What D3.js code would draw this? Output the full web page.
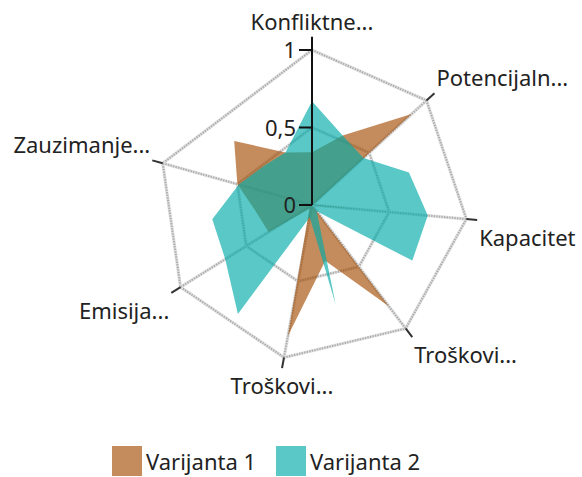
<!DOCTYPE html>
<html>
<head>
<meta charset="utf-8">
<script src="https://cdn.jsdelivr.net/npm/d3@7"></script>
<style>
  html, body { margin: 0; padding: 0; background: #fff; }
  svg { display: block; font-family: "Noto Sans", "Open Sans", sans-serif; }
</style>
</head>
<body>
<svg id="chart" width="582" height="477"></svg>
<script>
// Category axis labels (one spoke per category)
const categories = ["Konfliktne...", "Potencijaln...", "Kapacitet", "Troškovi...", "Troškovi...", "Emisija...", "Zauzimanje..."];
// Angular positions of the series points (half-category steps)
const positions = [0, 0.5, 1, 1.5, 2, 2.5, 3, 3.5, 4, 4.5, 5, 5.5, 6, 6.5, 7];
const varijanta1 = [0.34, 0.49, 0.87, 0.01, 0.30, 0.00, 0.82, 0.37, 0.86, 0.03, 0.33, 0.36, 0.50, 0.65, 0.38];
const varijanta2 = [0.67, 0.49, 0.45, 0.66, 0.75, 0.74, 0.05, 0.66, 0.08, 0.85, 0.66, 0.65, 0.49, 0.40, 0.38];
const seriesNames = ["Varijanta 1", "Varijanta 2"];
const seriesColors = ["rgb(165,78,4)", "rgb(0,170,168)"];
const valueTicks = [0, 0.5, 1];
const valueTickLabels = ["0", "0,5", "1"];

const svg = d3.select("#chart");
const cx = 312, cy = 205, R = 155;
const fontSize = 22;

// angular axis spans a little more than the seven categories
const angle = d3.scaleLinear().domain([0, 7.5625]).range([0, 2 * Math.PI]);
const radius = d3.scaleLinear().domain([0, 1]).range([0, R]);

const pt = (pos, v) => {
  const a = angle(pos) - Math.PI / 2;
  return [cx + radius(v) * Math.cos(a), cy + radius(v) * Math.sin(a)];
};

const g = svg.append("g");

// hatched grid stroke: light band with a fine darker dash on top
function gridStroke(d) {
  g.append("path").attr("d", d)
    .attr("fill", "none").attr("stroke", "#e0e0e0").attr("stroke-width", 3.2);
  g.append("path").attr("d", d)
    .attr("fill", "none").attr("stroke", "#aaaaaa").attr("stroke-width", 2)
    .attr("stroke-dasharray", "1.3,1.3");
}

const line = d3.line();

// grid rings
[0.5, 1].forEach(v => {
  const pts = categories.map((c, i) => pt(i, v));
  pts.push(pts[0]);
  gridStroke(line(pts));
});

// spokes
categories.forEach((c, i) => {
  if (i === 0) return;
  gridStroke(line([[cx, cy], pt(i, 1)]));
});

// outer ticks on each spoke
categories.forEach((c, i) => {
  if (i === 0) return;
  const [x1, y1] = pt(i, 1);
  const [x2, y2] = pt(i, 1.07);
  g.append("line").attr("x1", x1).attr("y1", y1).attr("x2", x2).attr("y2", y2)
    .attr("stroke", "#333").attr("stroke-width", 2);
});

// series areas
[varijanta1, varijanta2].forEach((vals, s) => {
  const pts = positions.map((p, i) => pt(p, vals[i]));
  g.append("path").attr("d", line(pts) + "Z")
    .attr("fill", seriesColors[s]).attr("fill-opacity", 0.65).attr("stroke", "none");
});

// value axis
const vAxis = g.append("g");
const [tx, ty] = pt(0, 1.085);
vAxis.append("line").attr("x1", cx).attr("y1", cy).attr("x2", tx).attr("y2", ty)
  .attr("stroke", "#111").attr("stroke-width", 2);
valueTicks.forEach((v, i) => {
  const y = cy - radius(v);
  vAxis.append("line").attr("x1", cx - 13).attr("x2", cx).attr("y1", y).attr("y2", y)
    .attr("stroke", "#111").attr("stroke-width", 2);
  vAxis.append("text").attr("x", cx - 16).attr("y", y + 8)
    .attr("text-anchor", "end").attr("font-size", fontSize).attr("fill", "#222")
    .text(valueTickLabels[i]);
});

// category labels
categories.forEach((c, i) => {
  const a = angle(i) - Math.PI / 2;
  const [x, y] = pt(i, 1.07);
  const cos = Math.cos(a), sin = Math.sin(a);
  const anchor = cos > 0.2 ? "start" : (cos < -0.2 ? "end" : "middle");
  const by = sin < -0.05 ? y - (i === 0 ? 9 : 7) : y + 26;
  g.append("text").attr("x", x + (anchor === "start" ? 2 : anchor === "end" ? -2 : 0))
    .attr("y", by).attr("text-anchor", anchor)
    .attr("font-size", fontSize).attr("fill", "#222").text(c);
});

// legend
const legend = svg.append("g");
const legendX = [112, 276];
seriesNames.forEach((n, s) => {
  legend.append("rect").attr("x", legendX[s]).attr("y", 446).attr("width", 30).attr("height", 30)
    .attr("fill", seriesColors[s]).attr("fill-opacity", 0.65);
  legend.append("text").attr("x", legendX[s] + 34).attr("y", 470)
    .attr("font-size", fontSize).attr("fill", "#222").text(n);
});
</script>
</body>
</html>
